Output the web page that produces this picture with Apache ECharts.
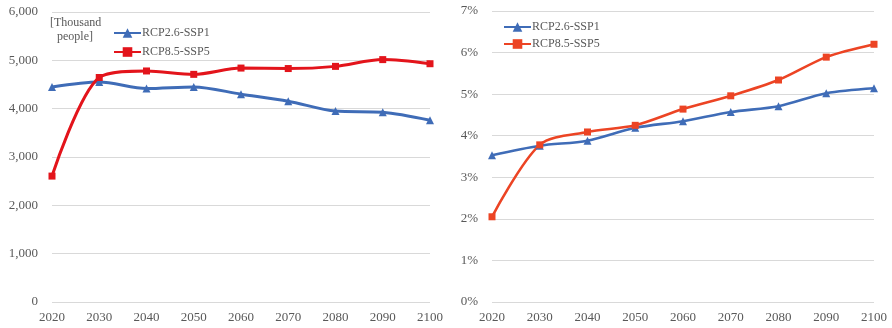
<!DOCTYPE html>
<html>
<head>
<meta charset="utf-8">
<script src="https://cdn.jsdelivr.net/npm/echarts@6/dist/echarts.min.js"></script>
<style>
html,body{margin:0;padding:0;background:#fff;}
#left{position:absolute;left:0;top:0;width:446px;height:328px;}
#right{position:absolute;left:446px;top:0;width:446px;height:328px;}
</style>
</head>
<body>
<div id="left"></div>
<div id="right"></div>
<script>
const years = ['2020','2030','2040','2050','2060','2070','2080','2090','2100'];
const seriesNames = ['RCP2.6-SSP1','RCP8.5-SSP5'];
// Left panel: thousand people
const peopleSSP1 = [4450, 4550, 4415, 4450, 4300, 4155, 3950, 3925, 3760];
const peopleSSP5 = [2605, 4645, 4780, 4710, 4840, 4830, 4875, 5015, 4930];
const peopleTicks = [0, 1000, 2000, 3000, 4000, 5000, 6000];
const unitLines = ['[Thousand', 'people]'];
// Right panel: percent
const shareSSP1 = [3.53, 3.76, 3.88, 4.19, 4.35, 4.57, 4.71, 5.02, 5.14];
const shareSSP5 = [2.05, 3.78, 4.09, 4.25, 4.64, 4.96, 5.34, 5.89, 6.20];
const shareTicks = [0, 1, 2, 3, 4, 5, 6, 7];

const FONT = '"Liberation Serif", "Times New Roman", serif';
const GRAY = '#595959';
const BLUE = '#3f6cb7';

function panel(el, grid, legendPos, yMin, yMax, yInt, fmt, s1, s2, red, lw, extra) {
  const ch = echarts.init(el, null, {renderer: 'canvas'});
  ch.setOption({
    animation: false,
    textStyle: {fontFamily: FONT},
    grid: grid,
    legend: Object.assign({
      orient: 'vertical',
      itemWidth: 27, itemHeight: 12, itemGap: 7,
      textStyle: {fontFamily: FONT, fontSize: 12, color: GRAY, padding: [0,0,0,-4]},
      data: seriesNames
    }, legendPos),
    xAxis: {
      type: 'category', data: years, boundaryGap: false,
      axisLine: {show: false}, axisTick: {show: false},
      axisLabel: {fontFamily: FONT, fontSize: 13, color: GRAY, margin: 9}
    },
    yAxis: {
      type: 'value', min: yMin, max: yMax, interval: yInt,
      axisLabel: {fontFamily: FONT, fontSize: 13, color: GRAY, margin: 14, formatter: fmt},
      splitLine: {lineStyle: {color: '#d9d9d9', width: 1}}
    },
    graphic: extra || [],
    series: [
      {name: seriesNames[0], type: 'line', data: s1, smooth: 0.3,
       symbol: 'triangle', symbolSize: 8,
       lineStyle: {color: BLUE, width: lw}, itemStyle: {color: BLUE}},
      {name: seriesNames[1], type: 'line', data: s2, smooth: 0.3,
       symbol: 'rect', symbolSize: 7,
       lineStyle: {color: red, width: lw}, itemStyle: {color: red}}
    ]
  });
}

panel(document.getElementById('left'),
  {left: 52, right: 13, top: 12, bottom: 26},
  {left: 108, top: 22, itemGap: 7},
  peopleTicks[0], peopleTicks[peopleTicks.length-1], 1000,
  v => v.toLocaleString('en-US'),
  peopleSSP1, peopleSSP5, '#e3141b', 3,
  [{type: 'text', left: 50, top: 17,
    style: {text: unitLines[0], font: '12px ' + FONT, fill: GRAY}},
   {type: 'text', left: 57, top: 31,
    style: {text: unitLines[1], font: '12px ' + FONT, fill: GRAY}}]
);

panel(document.getElementById('right'),
  {left: 46, right: 18, top: 11, bottom: 26},
  {left: 52, top: 16, itemGap: 5},
  shareTicks[0], shareTicks[shareTicks.length-1], 1,
  v => v + '%',
  shareSSP1, shareSSP5, '#ec4424', 2.6
);
</script>
</body>
</html>
